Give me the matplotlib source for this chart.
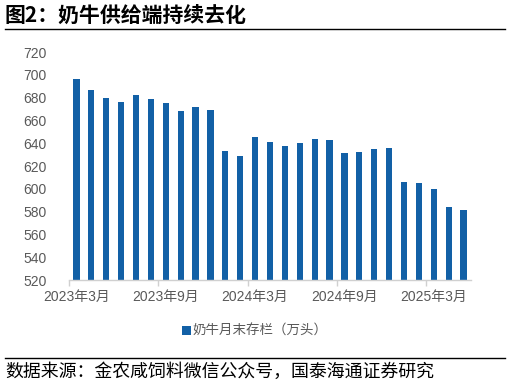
import matplotlib
matplotlib.use("Agg")
import matplotlib.pyplot as plt
from matplotlib.lines import Line2D

# 字体: 数字用 Liberation Sans, 中文回退到 Noto Sans CJK SC
plt.rcParams['font.family'] = ['Liberation Sans', 'Noto Sans CJK SC']

# 数据 (奶牛月末存栏, 万头)
months = ['2023-03', '2023-04', '2023-05', '2023-06', '2023-07', '2023-08',
          '2023-09', '2023-10', '2023-11', '2023-12', '2024-01', '2024-02',
          '2024-03', '2024-04', '2024-05', '2024-06', '2024-07', '2024-08',
          '2024-09', '2024-10', '2024-11', '2024-12', '2025-01', '2025-02',
          '2025-03', '2025-04', '2025-05']
stock = [696, 686.5, 680, 676.5, 682, 679, 675.5, 668, 672, 669, 633, 628.5,
         645.5, 641, 637.5, 640.5, 643.5, 642.5, 631.5, 632.5, 635, 636,
         606, 605, 600, 584, 581.5]
tick_labels = ['2023年3月', '2023年9月', '2024年3月', '2024年9月', '2025年3月']
series_name = '奶牛月末存栏（万头）'
title = '图2：奶牛供给端持续去化'
source = '数据来源：金农咸饲料微信公众号，国泰海通证券研究'

bar_color = '#1260A6'
gray = '#595959'

fig = plt.figure(figsize=(5.1, 3.84), dpi=100)
ax = fig.add_axes([69 / 510, 1 - 280 / 384, 402 / 510, 228 / 384])

x = list(range(len(months)))
bars = ax.bar(x, stock, width=0.42, color=bar_color, label=series_name, zorder=2)

ax.set_xlim(-0.5, len(months) - 0.5)
ax.set_ylim(520, 720)
ax.set_yticks(range(520, 721, 20))
ax.tick_params(axis='y', length=0, labelsize=10, labelcolor=gray, pad=16)

# 刻度线在类别边界, 标签在类别中心
ax.set_xticks([i - 0.5 for i in range(0, len(months), 6)])
ax.set_xticklabels([])
ax.tick_params(axis='x', which='major', length=4, color='#D0D0D0', width=1)
ax.set_xticks(list(range(0, len(months), 6)), minor=True)
ax.set_xticklabels(tick_labels, minor=True)
ax.tick_params(axis='x', which='minor', length=0, labelsize=10, labelcolor=gray, pad=7)

for s in ['top', 'right', 'left']:
    ax.spines[s].set_visible(False)
ax.spines['bottom'].set_color('#D0D0D0')
ax.spines['bottom'].set_linewidth(1)

# 图例
fig.legend(handles=[bars], labels=[series_name], loc='center',
           bbox_to_anchor=(0.5, 1 - 331 / 384), frameon=False,
           handlelength=0.6, handleheight=0.6, handletextpad=0.15,
           prop={'family': ['Noto Sans CJK SC'], 'size': 9.7}, labelcolor=gray)

# 标题与分隔线
fig.text(5 / 510, 1 - 15 / 384, title, ha='left', va='center', fontsize=15,
         fontweight='bold', family=['Noto Sans CJK SC'], color='black')
fig.add_artist(Line2D([5 / 510, 505 / 510], [1 - 29 / 384, 1 - 29 / 384],
                      color='black', lw=1))
fig.add_artist(Line2D([5 / 510, 505 / 510], [1 - 358 / 384, 1 - 358 / 384],
                      color='black', lw=1))
fig.text(5 / 510, 1 - 372 / 384, source, ha='left', va='center', fontsize=12.9,
         family=['Noto Sans CJK SC'], color='black')

fig.savefig('out.png', dpi=100)
